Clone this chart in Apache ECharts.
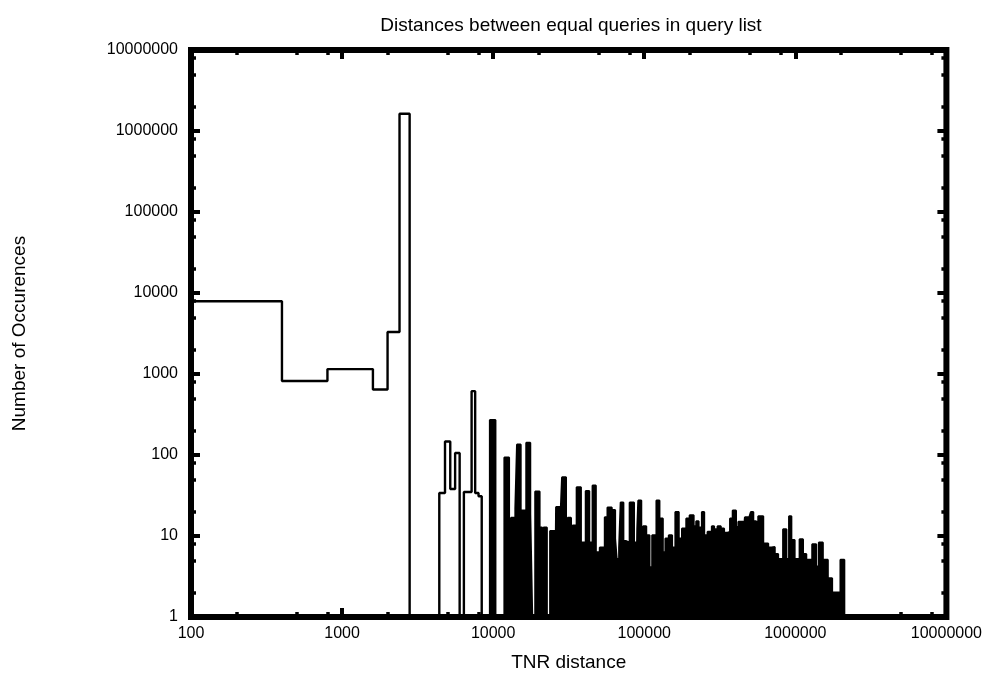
<!DOCTYPE html>
<html>
<head>
<meta charset="utf-8">
<script src="https://cdn.jsdelivr.net/npm/echarts@6/dist/echarts.min.js"></script>
<style>
  html, body { margin: 0; padding: 0; background: #fff; }
  #chart { width: 985px; height: 677px; }
</style>
</head>
<body>
<div id="chart"></div>
<script>
// ---- Data ----
// Coarse histogram outline: left bin edges and counts (step line, not filled)
const outlineX = [100, 400, 800, 1600, 2000, 2400, 2800, 4400, 4800, 5200, 5600, 6000, 6400, 7200, 7600, 8000, 8400];
const outlineY = [7900, 820, 1150, 645, 3300, 1630000, 1, 34, 147, 38, 106, 1, 35, 614, 34, 31, 1];

// Dense histogram region: left bin edges and counts (step line, filled)
const denseX = [8400, 9513, 10354, 11865, 12743, 13134, 14021, 14387, 15212, 15353, 16562, 17600, 18139, 18985, 20290, 21100, 21560, 22670, 23820, 25700,
  26090, 27730, 28580, 30350, 31140, 32740, 33590, 35700, 38100, 41000, 43270, 45500, 47820, 50350, 50800, 54810, 57100, 60950, 64150, 65740,
  68180, 69850, 72760, 75350, 80080, 85540, 88980, 89930, 91310, 95560, 98490, 103090, 108370, 112880, 120440, 126070, 132740, 138080, 145400, 152860,
  160700, 169210, 177830, 189760, 199800, 212320, 220850, 229030, 240780, 249330, 262510, 280210, 290130, 305500, 321100, 337560, 355400, 369700, 385100, 404800,
  419800, 452800, 463900, 496000, 508100, 526900, 548100, 568400, 613300, 661400, 695300, 730900, 769500, 830000, 872700, 908900, 941300, 989500, 1067400, 1123800,
  1181600, 1294000, 1374800, 1432000, 1521000, 1641000, 1752000, 1990000, 2110000, 10000000];
const denseY = [1, 270, 1, 93, 1, 16.8, 21.8, 135, 1, 20.6, 142, 18.8, 1, 35.4, 12.7, 1, 12.7, 1, 11.5, 1,
  22.8, 12.7, 53, 6.2, 16.8, 10.5, 13.5, 40, 8.3, 36, 8.3, 42, 6.3, 1, 7.2, 17, 22.5, 21, 9.3, 5.2,
  7.2, 26, 8.7, 8.3, 26, 8.3, 3.1, 12.4, 27.5, 10.5, 13.2, 10.2, 4.1, 10.2, 27.5, 16.4, 6.3, 9.3, 10.2, 7.2,
  19.8, 9.3, 12.4, 16.4, 18, 13.2, 15.2, 12.7, 19.8, 10.2, 11.3, 13.2, 12.1, 13.2, 12.4, 11, 11.2, 16.4, 20.6, 12.9,
  15, 9.6, 17, 17.9, 19.8, 15.2, 14.6, 17.5, 8.1, 7.2, 7.3, 6, 5.2, 12.1, 5.2, 17.5, 8.9, 5.2, 9.1, 6,
  5.1, 7.9, 4.2, 8.3, 5.1, 3, 2, 5.1, 1, 1];

// Axis ticks and labels
const xMajor = [100, 1000, 10000, 100000, 1000000, 10000000];
const xMinor = [200, 500, 800, 2000, 5000, 8000, 20000, 50000, 80000, 200000, 500000, 800000, 2000000, 5000000, 8000000];
const yMajor = [1, 10, 100, 1000, 10000, 100000, 1000000, 10000000];
const yMinor = [2, 5, 8, 20, 50, 80, 200, 500, 800, 2000, 5000, 8000, 20000, 50000, 80000, 200000, 500000, 800000, 2000000, 5000000, 8000000];

const titleText = 'Distances between equal queries in query list';
const xName = 'TNR distance';
const yName = 'Number of Occurences';

// ---- Chart ----
const FONT = 'Liberation Sans, Arial, Helvetica, sans-serif';
const FS = 16;      // tick labels
const FS_TEXT = 19; // title and axis names
const fmt = v => String(Math.round(v));

function xAxisDef(pos, ticks, len, width, labels, extra) {
  return Object.assign({
    type: 'log', logBase: 10, min: 100, max: 10000000, position: pos, gridIndex: 0,
    axisLine: { show: false },
    splitLine: { show: false },
    minorTick: { show: false },
    axisTick: { show: true, inside: true, length: len, customValues: ticks, lineStyle: { color: '#000', width: width } },
    axisLabel: labels ? { show: true, customValues: ticks, formatter: fmt, color: '#000', fontFamily: FONT, fontSize: FS, margin: 9, hideOverlap: false } : { show: false }
  }, extra || {});
}
function yAxisDef(pos, ticks, len, width, labels, extra) {
  return Object.assign({
    type: 'log', logBase: 10, min: 1, max: 10000000, position: pos, gridIndex: 0,
    axisLine: { show: false },
    splitLine: { show: false },
    minorTick: { show: false },
    axisTick: { show: true, inside: true, length: len, customValues: ticks, lineStyle: { color: '#000', width: width } },
    axisLabel: labels ? { show: true, customValues: ticks, formatter: fmt, color: '#000', fontFamily: FONT, fontSize: FS, margin: 13, hideOverlap: false } : { show: false }
  }, extra || {});
}

const outlineData = outlineX.map((x, i) => [x, outlineY[i]]);
const denseData = denseX.map((x, i) => [x, denseY[i]]);

const chart = echarts.init(document.getElementById('chart'), null, { renderer: 'canvas' });
chart.setOption({
  animation: false,
  backgroundColor: '#fff',
  title: {
    text: titleText, left: 571, top: 16, textAlign: 'center', padding: 0,
    textStyle: { color: '#000', fontFamily: FONT, fontSize: FS_TEXT, fontWeight: 'normal' }
  },
  grid: { left: 191, right: 34, top: 50, bottom: 53, show: true, borderColor: '#000', borderWidth: 6, backgroundColor: 'transparent', containLabel: false },
  xAxis: [
    xAxisDef('bottom', xMajor, 9, 4, true, {
      name: xName, nameLocation: 'middle', nameGap: 36,
      nameTextStyle: { color: '#000', fontFamily: FONT, fontSize: FS_TEXT }
    }),
    xAxisDef('bottom', xMinor, 5, 3.5, false),
    xAxisDef('top', xMajor, 9, 4, false),
    xAxisDef('top', xMinor, 5, 3.5, false)
  ],
  yAxis: [
    yAxisDef('left', yMajor, 9, 4, true, {
      name: yName, nameLocation: 'middle', nameGap: 162, nameRotate: 90,
      nameTextStyle: { color: '#000', fontFamily: FONT, fontSize: FS_TEXT }
    }),
    yAxisDef('left', yMinor, 5, 3.5, false),
    yAxisDef('right', yMajor, 9, 4, false),
    yAxisDef('right', yMinor, 5, 3.5, false)
  ],
  series: [
    {
      name: 'outline', type: 'line', xAxisIndex: 0, yAxisIndex: 0,
      data: outlineData, step: 'end', symbol: 'none', silent: true,
      lineStyle: { color: '#000', width: 2.4 }
    },
    {
      name: 'dense', type: 'line', xAxisIndex: 0, yAxisIndex: 0,
      data: denseData, step: 'end', symbol: 'none', silent: true,
      lineStyle: { color: '#000', width: 2 },
      areaStyle: { color: '#000', opacity: 1, origin: 'start' }
    }
  ]
});
</script>
</body>
</html>
